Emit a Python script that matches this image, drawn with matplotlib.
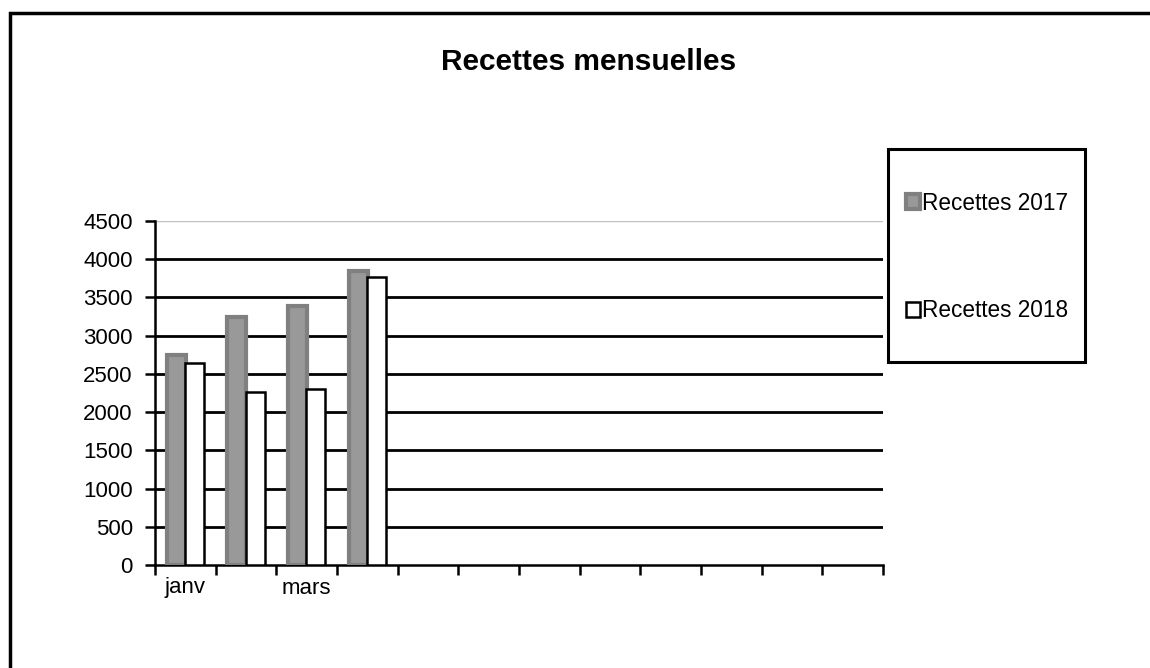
import numpy as np
from matplotlib import pyplot as plt
from matplotlib.patches import Rectangle

plt.rcParams['font.family'] = ['Liberation Sans', 'DejaVu Sans']

months = ["janv", "févr", "mars", "avr", "mai", "juin",
          "juil", "août", "sept", "oct", "nov", "déc"]
shown_labels = ["janv", "", "mars", "", "", "", "", "", "", "", "", ""]
recettes_2017 = [2750, 3250, 3390, 3840]
recettes_2018 = [2640, 2260, 2300, 3765]

W, H = 1150, 668
fig = plt.figure(figsize=(11.5, 6.68), dpi=100)
ax = fig.add_axes([155 / W, 1 - 565 / H, 728 / W, 344 / H])

x = np.arange(len(recettes_2017))
w = 0.31
ax.bar(x - 0.15, recettes_2017, w, color='#999999', edgecolor='#808080',
       linewidth=3, label='Recettes 2017', zorder=3)
ax.bar(x + 0.15, recettes_2018, w, color='white', edgecolor='black',
       linewidth=1.8, label='Recettes 2018', zorder=3)

ax.set_xlim(-0.5, len(months) - 0.5)
ax.set_ylim(0, 4500)
yt = np.arange(0, 4501, 500)
ax.set_yticks(yt)
ax.tick_params(axis='y', labelsize=16, length=7, width=1.8, direction='out', pad=9)
for v in yt[1:-1]:
    ax.axhline(v, color='black', lw=2, zorder=1)
ax.axhline(4500, color='#c0c0c0', lw=1, zorder=1)

ax.set_xticks(np.arange(len(months) + 1) - 0.5)
ax.set_xticklabels([])
ax.tick_params(axis='x', which='major', length=7, width=1.8, direction='out')
ax.set_xticks(np.arange(len(months)), minor=True)
ax.set_xticklabels(shown_labels, minor=True)
ax.tick_params(axis='x', which='minor', length=0, labelsize=16, pad=9)

for s in ['top', 'right']:
    ax.spines[s].set_visible(False)
for s in ['left', 'bottom']:
    ax.spines[s].set_linewidth(1.8)

fig.text(589 / W, 1 - 62 / H, 'Recettes mensuelles', ha='center', va='center',
         fontsize=21.5, fontweight='bold')

# legend box
bx0, by0, bx1, by1 = 888, 149, 1085, 362
fig.patches.append(Rectangle((bx0 / W, 1 - by1 / H), (bx1 - bx0) / W,
                             (by1 - by0) / H, transform=fig.transFigure,
                             fill=False, edgecolor='black', linewidth=2.2))
fig.legend(loc='center left', bbox_to_anchor=(906 / W, 1 - 257 / H),
           fontsize=16.3, frameon=False, handlelength=0.6, handleheight=0.6,
           handletextpad=0.1, labelspacing=3.75, borderpad=0, borderaxespad=0)

fig.patches.append(Rectangle((10 / W, -0.1), 1.2, 1 - 13 / H + 0.1,
                             transform=fig.transFigure, fill=False,
                             edgecolor='black', linewidth=2.5))

fig.savefig('out.png', dpi=100)
